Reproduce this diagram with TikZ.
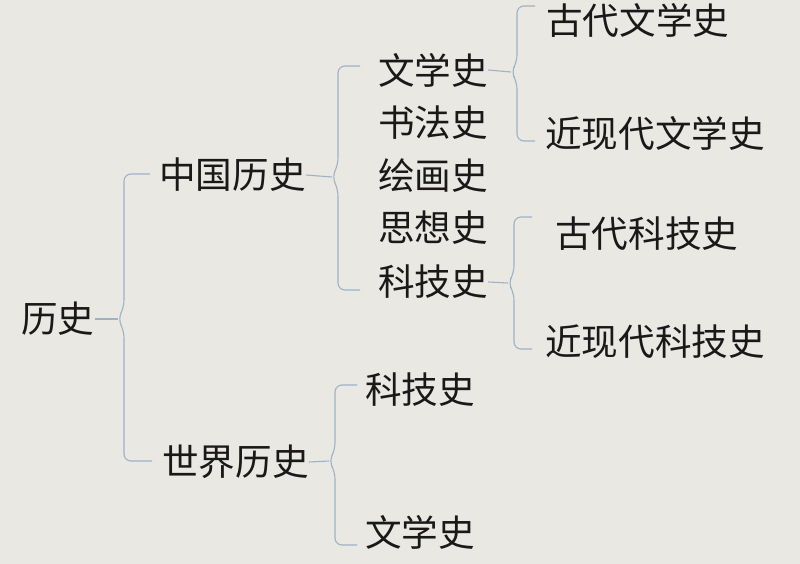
\documentclass[tikz,border=0pt]{standalone}
\usepackage{fontspec}
\newfontfamily\cjk{Noto Sans CJK SC}
\definecolor{bg}{RGB}{233,232,227}
\definecolor{brkline}{RGB}{158,178,198}
\tikzset{
  lbl/.style={anchor=west, inner sep=0pt, text=black!90,
    font=\cjk\fontsize{36.6}{36.6}\selectfont},
  brk/.style={draw=brkline, line width=1.1pt, rounded corners=7pt}
}
\begin{document}
\begin{tikzpicture}[x=1pt,y=-1pt]
    \fill[bg] (0,0) rectangle (800,564);
    \useasboundingbox (0,0) rectangle (800,564);

    % labels
    \node[lbl] (root) at (21,319) {历史};
    \node[lbl] (cn) at (159,175) {中国历史};
    \node[lbl] (world) at (162,462) {世界历史};
    \node[lbl] (cnlit) at (378,70) {文学史};
    \node[lbl] (cncal) at (378,123) {书法史};
    \node[lbl] (cnpaint) at (378,176) {绘画史};
    \node[lbl] (cnthink) at (378,228) {思想史};
    \node[lbl] (cnsci) at (378,282) {科技史};
    \node[lbl] (oldlit) at (546,20) {古代文学史};
    \node[lbl] (newlit) at (545,133) {近现代文学史};
    \node[lbl] (oldsci) at (555,234) {古代科技史};
    \node[lbl] (newsci) at (545,342) {近现代科技史};
    \node[lbl] (wsci) at (365,390) {科技史};
    \node[lbl] (wlit) at (365,532) {文学史};

    % brackets
    \coordinate (b1) at (118,319);
    \draw[brk] (root.east) -- (b1);
    \draw[brk] (150,174) -- (124,174) -- (124,307) -- (b1) -- (124,331) -- (124,461) -- (152,461);

    \coordinate (b2) at (332,177);
    \draw[brk] (cn.east) -- (b2);
    \draw[brk] (360,66) -- (338,66) -- (338,165) -- (b2) -- (338,189) -- (338,290) -- (360,290);

    \coordinate (b3) at (511,72);
    \draw[brk] (cnlit.east) -- (b3);
    \draw[brk] (535,6) -- (517,6) -- (517,62) -- (b3) -- (517,82) -- (517,141) -- (535,141);

    \coordinate (b4) at (508,283);
    \draw[brk] (cnsci.east) -- (b4);
    \draw[brk] (532,217) -- (514,217) -- (514,273) -- (b4) -- (514,293) -- (514,349) -- (532,349);

    \coordinate (b5) at (329,461);
    \draw[brk] (world.east) -- (b5);
    \draw[brk] (357,385) -- (335,385) -- (335,450) -- (b5) -- (335,472) -- (335,545) -- (357,545);
\end{tikzpicture}
\end{document}
